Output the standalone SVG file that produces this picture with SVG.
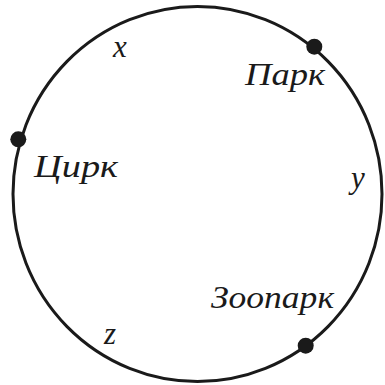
<svg xmlns="http://www.w3.org/2000/svg" width="385" height="385" viewBox="0 0 385 385">
<style>
.edge{fill:none;stroke:#1a1a1a;stroke-width:3}
.dot{fill:#1a1a1a}
text{font-family:'Liberation Serif','Times New Roman',serif;font-style:italic;font-size:31px;fill:#1a1a1a}
</style>
<rect width="385" height="385" fill="#fff"/>
<g id="connectors">
<ellipse class="edge" cx="197.5" cy="194" rx="184.5" ry="187.5"/>
</g>
<g id="label-x"><text x="113" y="57">x</text></g>
<g id="label-y"><text x="351" y="188">y</text></g>
<g id="label-z"><text x="104" y="344">z</text></g>
<g id="park"><circle class="dot" cx="314.3" cy="46.7" r="8"/><text x="245" y="85" textLength="80" lengthAdjust="spacingAndGlyphs">Парк</text></g>
<g id="circus"><circle class="dot" cx="18.3" cy="139.3" r="8"/><text x="34" y="177" textLength="84" lengthAdjust="spacingAndGlyphs">Цирк</text></g>
<g id="zoo"><circle class="dot" cx="305.7" cy="345.7" r="8"/><text x="211" y="308" textLength="123" lengthAdjust="spacingAndGlyphs">Зоопарк</text></g>
</svg>
